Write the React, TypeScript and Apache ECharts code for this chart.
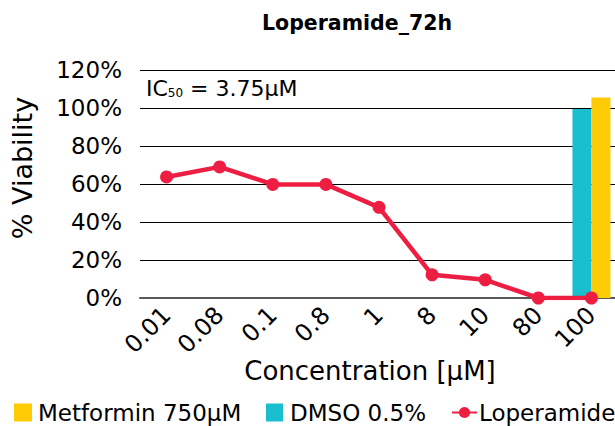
import React, { useEffect, useRef } from "react";
import * as echarts from "echarts";

const categories = ["0.01", "0.08", "0.1", "0.8", "1", "8", "10", "80", "100"];
const loperamide = [63.7, 69.0, 59.8, 59.8, 47.7, 12.2, 9.6, 0, 0];
const dmso = [null, null, null, null, null, null, null, null, 99.5];
const metformin = [null, null, null, null, null, null, null, null, 105.5];
const yTicks = { min: 0, max: 120, interval: 20 };

const FONT = "DejaVu Sans";
const RED = "#EE1E43";
const CYAN = "#19BECF";
const YELLOW = "#FFCB05";

export default function App() {
  const ref = useRef<HTMLDivElement>(null);
  useEffect(() => {
    const chart = echarts.init(ref.current!, null, { renderer: "svg" });
    const legendText = { fontFamily: FONT, fontSize: 23, color: "#000" };
    chart.setOption({
      animation: false,
      textStyle: { fontFamily: FONT, color: "#000" },
      title: {
        text: "Loperamide_72h",
        left: 262,
        top: 12,
        padding: 0,
        textStyle: { fontFamily: FONT, fontSize: 20.5, fontWeight: "bold", color: "#000" },
      },
      legend: [
        {
          left: 14, top: 401, padding: 0, itemWidth: 18, itemHeight: 18, itemGap: 0,
          textStyle: { ...legendText, padding: [0, 0, 0, 1] },
          data: [{ name: "Metformin 750μM", icon: "rect" }],
        },
        {
          left: 266, top: 401, padding: 0, itemWidth: 17, itemHeight: 18, itemGap: 0,
          textStyle: { ...legendText, padding: [0, 0, 0, 2] },
          data: [{ name: "DMSO 0.5%", icon: "rect" }],
        },
        {
          left: 451, top: 401, padding: 0, itemWidth: 25, itemHeight: 14, itemGap: 0,
          textStyle: { ...legendText, padding: [0, 0, 0, -3] },
          data: [{ name: "Loperamide" }],
        },
      ],
      grid: { left: 140, top: 70, width: 478, height: 228, containLabel: false },
      xAxis: {
        type: "category",
        data: categories,
        boundaryGap: true,
        axisLine: { lineStyle: { color: "#595959", width: 2 } },
        axisTick: { show: false },
        axisLabel: { rotate: 45, fontSize: 24, color: "#000", fontFamily: FONT, margin: 13, interval: 0 },
      },
      yAxis: {
        type: "value",
        min: yTicks.min,
        max: yTicks.max,
        interval: yTicks.interval,
        name: "% Viability",
        nameLocation: "middle",
        nameGap: 104,
        nameRotate: 90,
        nameTextStyle: { fontFamily: FONT, fontSize: 27, color: "#000", padding: [0, 0, 0, 32] },
        axisLine: { show: false },
        axisTick: { show: false },
        axisLabel: { formatter: "{value}%", fontSize: 23, color: "#000", fontFamily: FONT, margin: 18 },
        splitLine: { lineStyle: { color: "#000", width: 1 } },
      },
      graphic: [
        {
          type: "text",
          left: 146,
          top: 77,
          style: {
            text: "IC{sub|50} = 3.75μM",
            fontFamily: FONT,
            fontSize: 22,
            fill: "#000",
            rich: { sub: { fontSize: 12, fontFamily: FONT, padding: [10, 0, 0, 0] } },
          },
        },
        {
          type: "text",
          x: 370,
          y: 371,
          style: {
            text: "Concentration [μM]",
            fontFamily: FONT,
            fontSize: 26,
            fill: "#000",
            align: "center",
            verticalAlign: "middle",
          },
        },
      ],
      series: [
        {
          name: "DMSO 0.5%",
          type: "bar",
          data: dmso,
          barWidth: 19,
          barGap: "0%",
          itemStyle: { color: CYAN },
          z: 2,
        },
        {
          name: "Metformin 750μM",
          type: "bar",
          data: metformin,
          barWidth: 19,
          barGap: "0%",
          itemStyle: { color: YELLOW },
          z: 2,
        },
        {
          name: "Loperamide",
          type: "line",
          data: loperamide,
          symbol: "circle",
          symbolSize: 13,
          itemStyle: { color: RED },
          lineStyle: { color: RED, width: 4.5 },
          z: 5,
        },
      ],
    });
    return () => chart.dispose();
  }, []);
  return (
    <div
      style={{ position: "fixed", left: 0, top: 0, width: 615, height: 426, overflow: "hidden", background: "#fff" }}
    >
      <div ref={ref} style={{ width: 630, height: 426 }} />
    </div>
  );
}
